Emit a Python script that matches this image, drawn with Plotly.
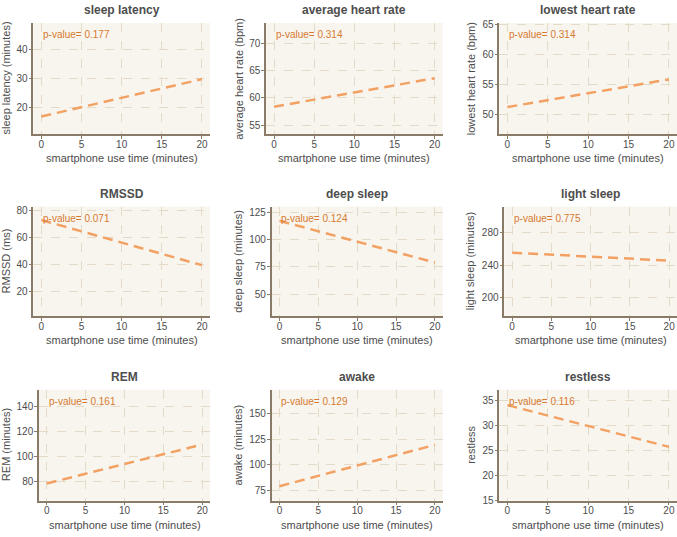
import plotly.graph_objects as go

W, H = 677, 537

titles = ["sleep latency", "average heart rate", "lowest heart rate",
          "RMSSD", "deep sleep", "light sleep",
          "REM", "awake", "restless"]
ylabels = ["sleep latency (minutes)", "average heart rate (bpm)", "lowest heart rate (bpm)",
           "RMSSD (ms)", "deep sleep (minutes)", "light sleep (minutes)",
           "REM (minutes)", "awake (minutes)", "restless"]
pvalues = ["0.177", "0.314", "0.314", "0.071", "0.124", "0.775", "0.161", "0.129", "0.116"]
use_time = [0, 20]
fit_sleep_latency = [17.0, 29.8]
fit_avg_hr = [58.4, 63.6]
fit_low_hr = [51.2, 55.8]
fit_rmssd = [73.0, 39.5]
fit_deep = [117.0, 79.0]
fit_light = [255.5, 245.5]
fit_rem = [78.7, 109.6]
fit_awake = [79.0, 119.5]
fit_restless = [34.1, 25.7]
fits = [fit_sleep_latency, fit_avg_hr, fit_low_hr, fit_rmssd, fit_deep,
        fit_light, fit_rem, fit_awake, fit_restless]
y_ranges = [[11, 49], [53.4, 73.7], [46.7, 65.2], [1.5, 83], [30, 130],
            [176, 313], [65.2, 153], [65, 173.4], [14.9, 37.2]]
y_dticks = [10, 5, 5, 20, 25, 40, 20, 25, 5]

# pixel layout of plot areas
col_px = [[(33.3, 210), (266, 442.7), (499.3, 677)],
          [(33.3, 210), (271.7, 442.7), (504.3, 677)],
          [(39, 210), (271.7, 442.7), (499.3, 677)]]
row_px = [(19.3, 132.3), (206, 317.7), (392.3, 505)]
ytitle_x = [6, 238.3, 470.7]

line_col = "#f2a163"
pv_col = "#d67a30"
txt_col = "#4d4d4d"
axis_col = "#8a7a68"
grid_col = "#e4dac8"
FONT = "Liberation Sans, Arial, sans-serif"

fig = go.Figure()
ann = []
layout = {}
for i in range(9):
    r, c = divmod(i, 3)
    x0, x1 = col_px[r][c]
    t0, t1 = row_px[r]
    k = "" if i == 0 else str(i + 1)
    layout["xaxis" + k] = dict(
        domain=[x0 / W, min(x1 / W, 1)], anchor="y" + k, range=[-1, 21],
        tickvals=[0, 5, 10, 15, 20], showgrid=True, gridcolor=grid_col,
        griddash="dash", gridwidth=1, zeroline=False, showline=True,
        linecolor=axis_col, linewidth=1.5, ticks="outside", ticklen=3,
        ticklabelstandoff=-3,
        tickcolor=axis_col, tickfont=dict(size=10, color=txt_col, family=FONT))
    layout["yaxis" + k] = dict(
        domain=[1 - t1 / H, 1 - t0 / H], anchor="x" + k, range=y_ranges[i],
        dtick=y_dticks[i], showgrid=True, gridcolor=grid_col, griddash="dash",
        gridwidth=1, zeroline=False, showline=True, linecolor=axis_col,
        linewidth=1.5, ticks="outside", ticklen=3, tickcolor=axis_col,
        ticklabelstandoff=-1,
        tickfont=dict(size=10, color=txt_col, family=FONT))
    fig.add_trace(go.Scatter(x=use_time, y=fits[i], mode="lines",
                             line=dict(color=line_col, width=2.5, dash="10px,6px"),
                             xaxis="x" + k, yaxis="y" + k, showlegend=False,
                             hoverinfo="skip"))
    cx = (x0 + x1) / 2 / W
    ann.append(dict(text="<b>" + titles[i] + "</b>", x=cx, y=1 - (t0 - 13) / H,
                    xref="paper", yref="paper", showarrow=False,
                    font=dict(size=12, color=txt_col, family=FONT),
                    xanchor="center", yanchor="middle"))
    ann.append(dict(text="smartphone use time (minutes)", x=cx,
                    y=1 - (t1 + 24.5) / H, xref="paper", yref="paper",
                    showarrow=False, font=dict(size=11, color=txt_col, family=FONT),
                    xanchor="center", yanchor="middle"))
    ann.append(dict(text=ylabels[i], x=ytitle_x[c] / W, y=1 - (t0 + t1) / 2 / H,
                    xref="paper", yref="paper", showarrow=False, textangle=-90,
                    font=dict(size=11, color=txt_col, family=FONT),
                    xanchor="center", yanchor="middle"))
    ann.append(dict(text="p-value= " + pvalues[i], x=0, y=0.895,
                    xref="x" + k, yref="y" + k + " domain", showarrow=False,
                    font=dict(size=10, color=pv_col, family=FONT),
                    xanchor="left", yanchor="middle"))

fig.update_layout(width=W, height=H, margin=dict(l=0, r=0, t=0, b=0),
                  paper_bgcolor="white", plot_bgcolor="#f8f5ef",
                  annotations=ann, **layout)
fig.write_html("out.html", config={"displayModeBar": False},
               post_script="document.body.style.margin='0';document.body.style.overflow='hidden';")
